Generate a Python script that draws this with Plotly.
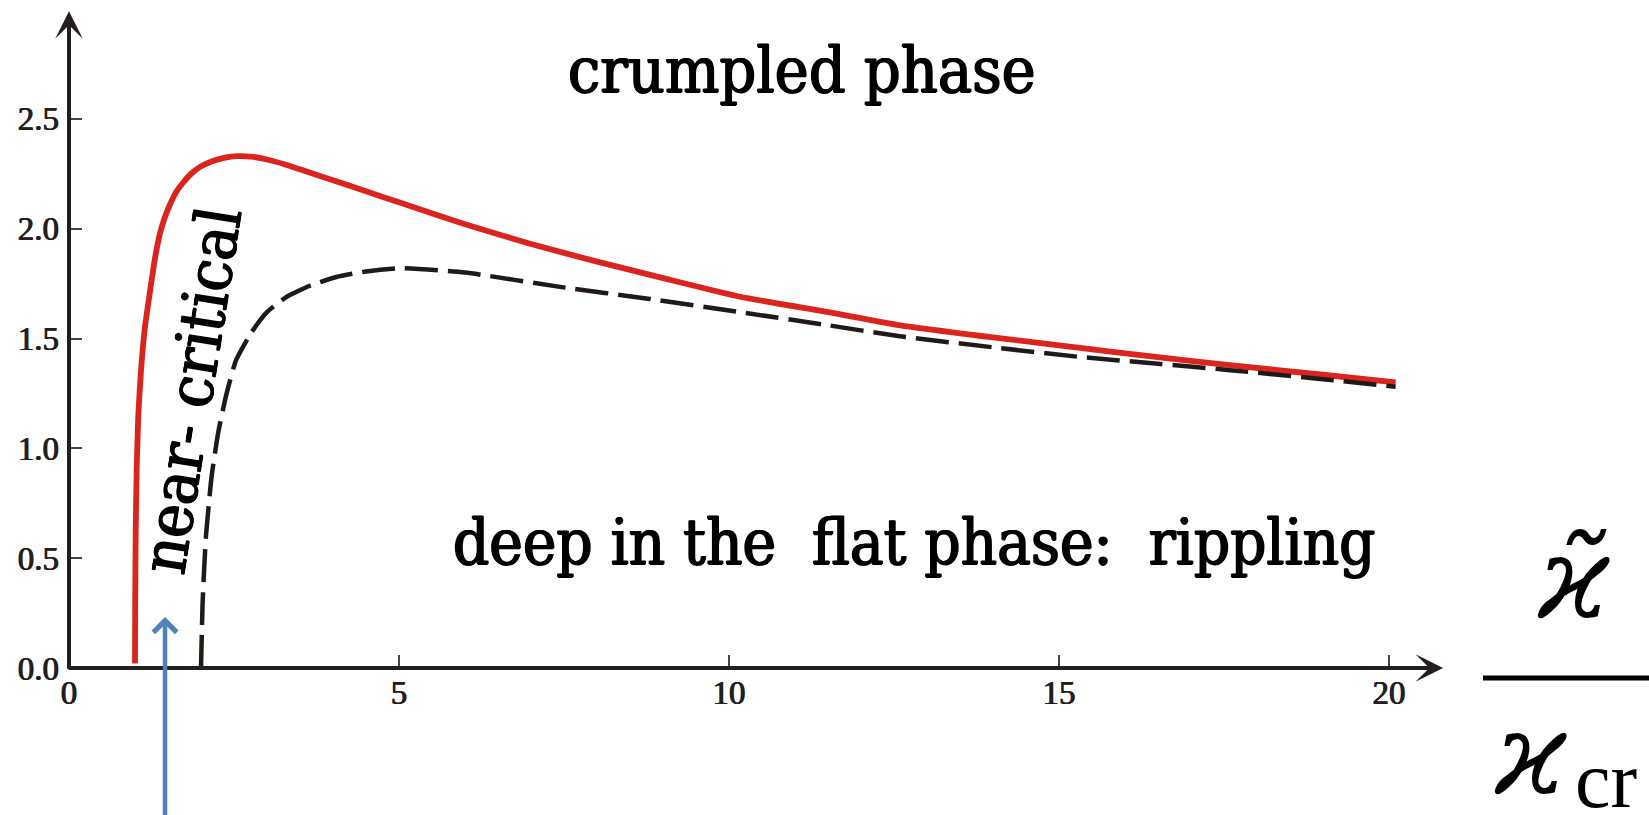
import plotly.graph_objects as go

# ---------------- data ----------------
red_x = [1.0, 1.003, 1.01, 1.025, 1.05, 1.09, 1.15, 1.23, 1.3, 1.38, 1.45, 1.53, 1.62,
         1.73, 1.85, 1.98, 2.15, 2.35, 2.55, 2.75, 3.0, 3.3, 3.6, 4.0, 4.5, 5.0, 6.0,
         7.0, 8.0, 9.0, 10.17, 11.5, 12.59, 14.0, 15.32, 16.5, 17.55, 19.0, 20.1]
red_y = [0.02, 0.3, 0.6, 0.9, 1.15, 1.35, 1.55, 1.72, 1.86, 1.98, 2.05, 2.11, 2.165,
         2.21, 2.25, 2.28, 2.305, 2.322, 2.33, 2.328, 2.315, 2.29, 2.26, 2.22, 2.17, 2.12, 2.02,
         1.93, 1.85, 1.775, 1.69, 1.62, 1.56, 1.505, 1.457, 1.415, 1.38, 1.335, 1.30]

dash_x = [2.0, 2.025, 2.075, 2.16, 2.26, 2.38, 2.53, 2.77, 3.0, 3.3, 3.65, 4.05, 4.5, 5.0,
          6.0, 7.44, 8.8, 10.17, 11.4, 12.59, 14.0, 15.32, 16.5, 17.55, 19.0, 20.1]
dash_y = [0.0, 0.3, 0.6, 0.87, 1.07, 1.24, 1.40, 1.53, 1.62, 1.69, 1.74, 1.78, 1.805, 1.82,
          1.80, 1.735, 1.68, 1.62, 1.565, 1.51, 1.46, 1.416, 1.385, 1.357, 1.315, 1.28]

x_ticks = [0, 5, 10, 15, 20]
x_tick_labels = ["0", "5", "10", "15", "20"]
y_ticks = [0.0, 0.5, 1.0, 1.5, 2.0, 2.5]
y_tick_labels = ["0.0", "0.5", "1.0", "1.5", "2.0", "2.5"]

label_top = "crumpled phase"
label_bottom = "deep in the\u00a0 flat phase:\u00a0 rippling"
label_side = "near- critical"
frac_num = "<i>ϰ\u0303</i>"
frac_den = "<i>ϰ</i>"
frac_sub = "cr"

# ---------------- geometry ----------------
W, H = 1649, 815
L, T = 69, 9
PW, PH = 1386, 659
R = W - L - PW
B = H - T - PH
X_RANGE = [0, 21]
Y_RANGE = [0, 3.0]


def pxx(p):
    return (p - L) / PW


def pxy(p):
    return (T + PH - p) / PH


INK = "#231F20"
TEXT_FONT = "DejaVu Serif Condensed, DejaVu Serif, serif"
HEAVY = "0.9px 0 0 #000, -0.9px 0 0 #000, 0 0.5px 0 #000"
TICK_FONT = dict(family="Liberation Serif, Times New Roman, serif", size=33, color=INK,
                 shadow="0.4px 0 0 #231F20, -0.4px 0 0 #231F20")

fig = go.Figure()
fig.add_trace(go.Scatter(
    x=red_x, y=red_y, mode="lines",
    line=dict(color="#DC241F", width=5.8, shape="spline", smoothing=0.5),
    hoverinfo="skip", showlegend=False))
fig.add_trace(go.Scatter(
    x=dash_x, y=dash_y, mode="lines",
    line=dict(color="#1F1A17", width=4.5, dash="33px,10px", shape="spline", smoothing=0.5),
    hoverinfo="skip", showlegend=False))

annotations = [
    # x axis with arrow
    dict(x=20.82, y=0, ax=-0.03, ay=0, xref="x", yref="y", axref="x", ayref="y",
         showarrow=True, arrowhead=3, arrowsize=1.15, arrowwidth=4, arrowcolor=INK, text=""),
    # y axis with arrow
    dict(x=0, y=2.99, ax=0, ay=-0.01, xref="x", yref="y", axref="x", ayref="y",
         showarrow=True, arrowhead=3, arrowsize=1.15, arrowwidth=4, arrowcolor=INK, text=""),
    # blue pointer arrow
    dict(x=1.455, y=0.232, ax=1.455, ay=-0.75, xref="x", yref="y", axref="x", ayref="y",
         showarrow=True, arrowhead=4, arrowsize=1.0, arrowwidth=4.5, arrowcolor="#4F81BD", text=""),
    # region labels
    dict(x=pxx(802), y=pxy(70), xref="paper", yref="paper", text=label_top, showarrow=False,
         font=dict(family=TEXT_FONT, size=64, color="black", shadow=HEAVY),
         xanchor="center", yanchor="middle"),
    dict(x=pxx(914), y=pxy(542), xref="paper", yref="paper", text=label_bottom, showarrow=False,
         font=dict(family=TEXT_FONT, size=63, color="black", shadow=HEAVY),
         xanchor="center", yanchor="middle"),
    dict(x=pxx(191), y=pxy(390), xref="paper", yref="paper", text=label_side, showarrow=False,
         textangle=-81,
         font=dict(family=TEXT_FONT, size=63, color="black", shadow=HEAVY),
         xanchor="center", yanchor="middle"),
    # fraction on the right
    dict(x=pxx(1574), y=pxy(578), xref="paper", yref="paper", text=frac_num, showarrow=False,
         font=dict(family="DejaVu Serif, serif", size=115, color="black"),
         xanchor="center", yanchor="middle"),
    dict(x=pxx(1531), y=pxy(754), xref="paper", yref="paper", text=frac_den, showarrow=False,
         font=dict(family="DejaVu Serif, serif", size=115, color="black"),
         xanchor="center", yanchor="middle"),
    dict(x=pxx(1606), y=pxy(780), xref="paper", yref="paper", text=frac_sub, showarrow=False,
         font=dict(family="Liberation Serif, serif", size=80, color="black"),
         xanchor="center", yanchor="middle"),
]

shapes = [
    dict(type="line", xref="paper", yref="paper", x0=pxx(1483), x1=pxx(1652),
         y0=pxy(678), y1=pxy(678), line=dict(color="black", width=5)),
]

fig.update_layout(
    width=W, height=H,
    margin=dict(l=L, r=R, t=T, b=B, pad=0),
    paper_bgcolor="white", plot_bgcolor="white",
    showlegend=False,
    annotations=annotations, shapes=shapes,
    xaxis=dict(range=X_RANGE, tickvals=x_ticks, ticktext=x_tick_labels,
               ticks="inside", ticklen=13, tickwidth=1.5, tickcolor="#444444",
               showgrid=False, zeroline=False, showline=False,
               tickfont=TICK_FONT, ticklabelstandoff=2, fixedrange=True),
    yaxis=dict(range=Y_RANGE, tickvals=y_ticks, ticktext=y_tick_labels,
               ticks="inside", ticklen=13, tickwidth=1.5, tickcolor="#444444",
               showgrid=False, zeroline=False, showline=False,
               tickfont=TICK_FONT, ticklabelstandoff=9, fixedrange=True),
)

fig.write_html("out.html")
